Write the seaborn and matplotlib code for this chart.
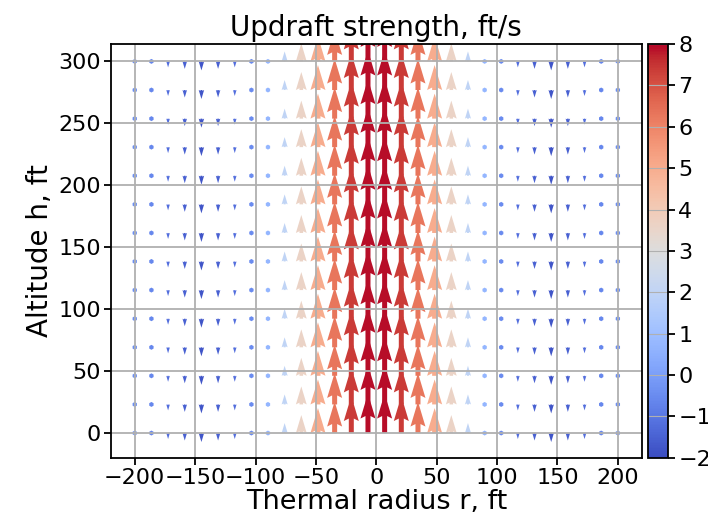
import numpy as np
import matplotlib
matplotlib.use("Agg")
import matplotlib.pyplot as plt
import seaborn as sns
from matplotlib.colors import Normalize

# ---- data ----
radius_ft = [-200.0, -186.2, -172.4, -158.6, -144.8, -131.0, -117.2, -103.4, -89.7, -75.9,
             -62.1, -48.3, -34.5, -20.7, -6.9, 6.9, 20.7, 34.5, 48.3, 62.1,
             75.9, 89.7, 103.4, 117.2, 131.0, 144.8, 158.6, 172.4, 186.2, 200.0]
altitude_ft = [0.0, 23.1, 46.2, 69.2, 92.3, 115.4, 138.5, 161.5, 184.6, 207.7,
               230.8, 253.8, 276.9, 300.0]
updraft_fts = [-0.4, -0.6, -1.2, -1.5, -1.8, -1.5, -1.2, -0.5, 0.7, 2.0,
               3.6, 5.0, 6.3, 7.4, 7.9, 7.9, 7.4, 6.3, 5.0, 3.6,
               2.0, 0.7, -0.5, -1.2, -1.5, -1.8, -1.5, -1.2, -0.6, -0.4]
x_ticks = [-200, -150, -100, -50, 0, 50, 100, 150, 200]
y_ticks = [0, 50, 100, 150, 200, 250, 300]
cbar_ticks = [-2, -1, 0, 1, 2, 3, 4, 5, 6, 7, 8]

sns.set_style("ticks", {
    "axes.grid": True,
    "grid.color": "#b0b0b0",
    "axes.edgecolor": "black",
    "axes.axisbelow": "line",
    "text.color": "black",
    "axes.labelcolor": "black",
    "xtick.color": "black",
    "ytick.color": "black",
})
plt.rcParams["font.family"] = ["DejaVu Sans"]
plt.rcParams["axes.unicode_minus"] = True

cmap = sns.color_palette("coolwarm", as_cmap=True)

fig = plt.figure(figsize=(7.08, 5.14), dpi=100)
ax = fig.add_axes([0.1562, 0.1093, 0.7506, 0.805])
cax = fig.add_axes([0.9153, 0.1093, 0.0282, 0.805])

R, H = np.meshgrid(radius_ft, altitude_ft)
W = np.tile(np.array(updraft_fts), (len(altitude_ft), 1))
U = np.zeros_like(W)

q = ax.quiver(R, H, U, W, W, cmap=cmap, norm=Normalize(vmin=-2, vmax=8),
              units="dots", width=5.0, scale_units="dots", scale=1 / 5.0,
              pivot="tail")

ax.set_xlim(-220, 220)
ax.set_ylim(-20, 314)
ax.set_xticks(x_ticks)
ax.set_yticks(y_ticks)
ax.grid(True, color="#b0b0b0", linewidth=1.3)
for s in ax.spines.values():
    s.set_linewidth(1.3)
ax.tick_params(labelsize=16, width=1.3, length=5, pad=2)
ax.set_title("Updraft strength, ft/s", fontsize=20, pad=6)
ax.set_xlabel("Thermal radius r, ft", fontsize=19.5, labelpad=1)
ax.set_ylabel("Altitude h, ft", fontsize=20, labelpad=3)

cb = fig.colorbar(q, cax=cax, ticks=cbar_ticks)
cb.ax.tick_params(labelsize=16, width=1.3, length=5, pad=2.5)
cb.outline.set_linewidth(1.3)

fig.savefig("out.png", dpi=100)
